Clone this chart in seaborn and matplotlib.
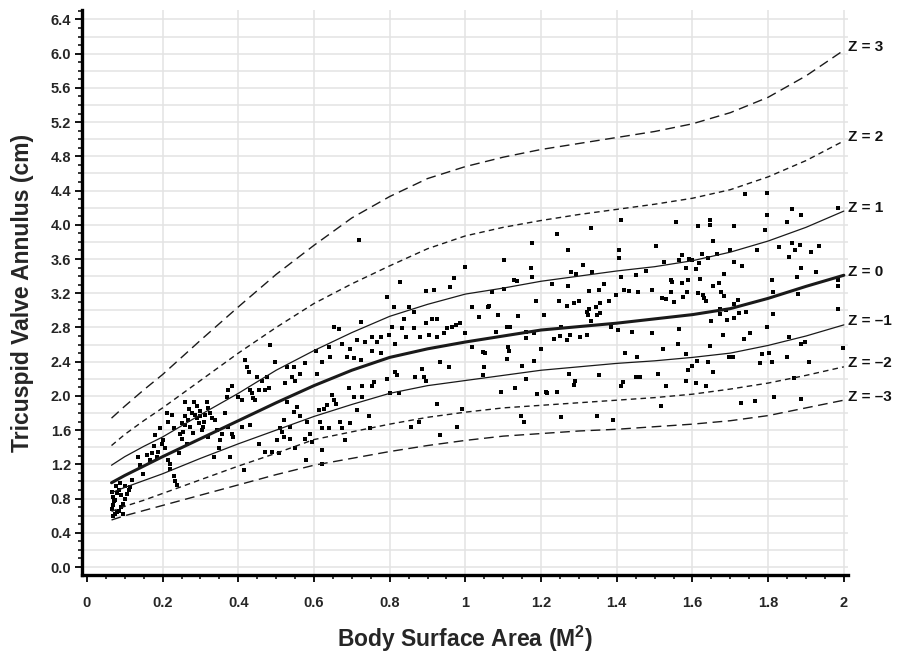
import numpy as np
import pandas as pd
import matplotlib
matplotlib.use("Agg")
import matplotlib.pyplot as plt
import seaborn as sns
from matplotlib.ticker import MultipleLocator, FuncFormatter

# ---------------- data ----------------
bsa_grid = [0.065, 0.1, 0.15, 0.2, 0.3, 0.4, 0.5, 0.6, 0.7, 0.8, 0.9, 1.0,
            1.1, 1.2, 1.3, 1.4, 1.5, 1.6, 1.7, 1.8, 1.9, 2.0]
z_p3 = [1.74, 1.88, 2.07, 2.25, 2.65, 3.04, 3.42, 3.76, 4.08, 4.33, 4.54, 4.68,
        4.79, 4.88, 4.95, 5.02, 5.09, 5.18, 5.31, 5.49, 5.74, 6.04]
z_p2 = [1.42, 1.55, 1.71, 1.86, 2.18, 2.50, 2.80, 3.08, 3.31, 3.52, 3.72, 3.87,
        3.97, 4.05, 4.12, 4.18, 4.24, 4.31, 4.41, 4.56, 4.75, 4.98]
z_p1 = [1.19, 1.29, 1.41, 1.52, 1.78, 2.03, 2.30, 2.53, 2.74, 2.93, 3.07, 3.19,
        3.26, 3.34, 3.40, 3.46, 3.51, 3.58, 3.68, 3.81, 3.97, 4.16]
z_0 = [0.985, 1.07, 1.18, 1.29, 1.50, 1.71, 1.92, 2.12, 2.30, 2.45, 2.55, 2.63,
       2.70, 2.77, 2.81, 2.85, 2.90, 2.95, 3.02, 3.14, 3.28, 3.41]
z_m1 = [0.87, 0.93, 1.01, 1.09, 1.27, 1.44, 1.60, 1.76, 1.90, 2.03, 2.12, 2.18,
        2.24, 2.30, 2.34, 2.38, 2.41, 2.45, 2.50, 2.59, 2.70, 2.83]
z_m2 = [0.65, 0.71, 0.78, 0.86, 1.02, 1.18, 1.33, 1.49, 1.58, 1.67, 1.75, 1.81,
        1.86, 1.89, 1.92, 1.95, 1.98, 2.02, 2.08, 2.15, 2.24, 2.34]
z_m3 = [0.55, 0.60, 0.66, 0.72, 0.84, 0.96, 1.08, 1.19, 1.27, 1.35, 1.42, 1.48,
        1.53, 1.56, 1.59, 1.61, 1.64, 1.67, 1.71, 1.77, 1.86, 1.95]
z_labels = ["Z = 3", "Z = 2", "Z = 1", "Z = 0", "Z = \u20131", "Z = \u20132", "Z = \u20133"]

pts_infant = [(0.066,0.88),(0.07,0.82),(0.075,0.78),(0.08,0.86),(0.085,0.90),(0.09,0.84),
              (0.07,0.72),(0.066,0.68),(0.075,0.62),(0.085,0.66),(0.095,0.74),(0.10,0.80),
              (0.105,0.85),(0.07,0.60),(0.08,0.64),(0.09,0.70),(0.078,0.95),(0.088,0.98),
              (0.10,0.95),(0.11,0.90),(0.095,0.62),(0.072,0.77),(0.12,1.02),(0.115,0.93)]
pts_small = [(0.136,1.29),(0.14,1.19),(0.149,1.09),(0.158,1.31),(0.167,1.25),(0.171,1.33),
             (0.176,1.41),(0.18,1.54),(0.185,1.29),(0.189,1.35),(0.193,1.62),(0.198,1.44),
             (0.202,1.48),(0.207,1.39),(0.211,1.80),(0.215,1.25),(0.22,1.21),(0.22,1.15),
             (0.224,1.78),(0.229,1.06),(0.233,1.00),(0.238,0.96),(0.242,1.33),(0.246,1.56),
             (0.251,1.50),(0.255,1.58),(0.26,1.93),(0.26,1.76),(0.264,1.44),(0.268,1.72),
             (0.273,1.64),(0.277,1.80),(0.282,1.93),(0.286,1.78),(0.29,1.74),(0.295,1.68),
             (0.30,1.76),(0.304,1.60),(0.308,1.64),(0.313,1.78),(0.317,1.93),(0.321,1.52),
             (0.326,1.80),(0.33,1.74),(0.335,1.29),(0.339,1.72),(0.343,1.60),(0.348,1.39),
             (0.352,1.48),(0.357,1.56),(0.365,1.80),(0.37,1.99),(0.374,2.07),(0.379,1.29),
             (0.383,2.11),(0.387,1.52),(0.40,1.99),(0.41,1.95),(0.414,1.13),(0.418,2.42),
             (0.423,2.34),(0.427,2.28),(0.432,2.07),(0.436,2.03),(0.44,1.97),(0.445,1.95),
             (0.449,2.22),(0.454,2.07),(0.462,2.18),(0.471,2.07),(0.476,2.22),(0.48,2.09),
             (0.485,2.59),(0.489,1.35),(0.498,2.40),(0.502,1.48),(0.511,1.62),(0.515,1.58),
             (0.52,1.52),(0.454,1.44),(0.471,1.35),(0.507,1.33),(0.41,1.64),(0.432,1.66),
             (0.374,1.64),(0.383,1.56),(0.25,1.68),(0.27,1.85),(0.29,1.88),(0.31,1.70),
             (0.23,1.62),(0.28,1.57),(0.32,1.86),(0.26,1.66),(0.30,1.82),(0.215,1.70)]
pts_mid = [(0.718,3.82),(0.793,3.16),(0.828,3.33),(1.0,3.51),(0.97,3.38),(0.895,3.23),
           (0.917,3.24),(0.96,3.27),(0.723,2.86),(0.652,2.81),(0.665,2.78),(0.811,3.04),
           (0.85,3.04),(0.864,2.98),(0.912,2.90),(0.925,2.90),(0.895,2.85),(0.987,2.85),
           (0.974,2.83),(0.952,2.79),(0.943,2.73),(0.925,2.69),(0.903,2.71),(0.881,2.69),
           (0.864,2.79),(0.837,2.90),(0.833,2.79),(0.806,2.81),(0.798,2.71),(0.776,2.69),
           (0.754,2.69),(0.767,2.63),(0.736,2.63),(0.714,2.65),(0.696,2.55),(0.674,2.61),
           (0.687,2.46),(0.705,2.44),(0.723,2.42),(0.754,2.53),(0.776,2.50),(0.815,2.61),
           (0.842,2.69),(0.934,2.40),(0.956,2.34),(0.886,2.32),(0.89,2.22),(0.895,2.17),
           (0.868,2.22),(0.815,2.28),(0.82,2.24),(0.793,2.20),(0.758,2.16),(0.727,2.11),
           (0.692,2.09),(0.643,2.46),(0.639,2.57),(0.621,2.40),(0.604,2.53),(0.577,2.38),
           (0.546,2.34),(0.529,2.34),(0.608,2.26),(0.564,2.26),(0.542,2.22),(0.524,2.15),
           (0.551,2.17),(0.648,2.01),(0.652,1.95),(0.657,1.91),(0.634,1.89),(0.626,1.85),
           (0.612,1.83),(0.529,1.93),(0.555,1.87),(0.546,1.81),(0.564,1.76),(0.52,1.72),
           (0.537,1.64),(0.582,1.70),(0.617,1.70),(0.621,1.62),(0.639,1.62),(0.67,1.70),
           (0.696,1.68),(0.674,1.62),(0.683,1.48),(0.577,1.50),(0.59,1.56),(0.595,1.46),
           (0.537,1.50),(0.551,1.39),(0.621,1.37),(0.745,1.76),(0.749,1.62),(0.802,2.03),
           (0.824,2.03),(0.727,1.99),(0.754,2.11),(0.714,1.83),(0.705,1.99),(0.925,1.91),
           (0.877,1.70),(0.855,1.64),(0.934,1.54),(0.978,1.64),(0.992,1.85),(1.018,2.57),
           (1.018,3.04),(1.036,2.92),(1.0,2.73),(0.965,2.81),(0.58,1.25),(0.62,1.20)]
pts_large = [(1.41,4.05),(1.556,4.03),(1.331,3.96),(1.241,3.89),(1.177,3.79),(1.271,3.71),
             (1.503,3.75),(1.406,3.71),(1.406,3.61),(1.103,3.59),(1.525,3.57),(1.565,3.59),
             (1.174,3.49),(1.312,3.53),(1.28,3.45),(1.335,3.45),(1.291,3.42),(1.177,3.39),
             (1.128,3.36),(1.137,3.34),(1.41,3.39),(1.45,3.41),(1.477,3.46),(1.543,3.35),
             (1.547,3.33),(1.23,3.31),(1.271,3.29),(1.366,3.31),(1.071,3.22),(1.102,3.25),
             (1.327,3.23),(1.353,3.24),(1.42,3.24),(1.432,3.23),(1.455,3.22),(1.494,3.24),
             (1.543,3.22),(1.397,3.18),(1.52,3.15),(1.53,3.13),(1.55,3.10),(1.186,3.11),
             (1.247,3.11),(1.287,3.09),(1.30,3.11),(1.38,3.11),(1.357,3.08),(1.344,3.04),
             (1.327,3.02),(1.059,3.04),(1.062,3.05),(1.268,3.05),(1.322,2.98),(1.349,2.94),
             (1.356,2.97),(1.086,2.95),(1.139,2.93),(1.208,2.94),(1.324,2.94),(1.109,2.81),
             (1.119,2.81),(1.252,2.81),(1.331,2.88),(1.384,2.81),(1.08,2.75),(1.159,2.75),
             (1.181,2.73),(1.276,2.71),(1.25,2.70),(1.322,2.71),(1.403,2.77),(1.441,2.75),
             (1.492,2.73),(1.565,2.78),(1.159,2.68),(1.234,2.66),(1.268,2.65),(1.304,2.69),
             (1.561,2.61),(1.112,2.57),(1.115,2.53),(1.046,2.51),(1.053,2.50),(1.201,2.55),
             (1.521,2.55),(1.421,2.50),(1.11,2.43),(1.181,2.41),(1.453,2.45),(1.049,2.34),
             (1.15,2.35),(1.046,2.24),(1.274,2.26),(1.353,2.24),(1.159,2.20),(1.289,2.17),
             (1.417,2.16),(1.287,2.13),(1.45,2.22),(1.461,2.22),(1.51,2.26),(1.53,2.11),
             (1.412,2.11),(1.093,2.04),(1.13,2.09),(1.188,2.02),(1.212,2.04),(1.216,2.03),
             (1.243,2.04),(1.516,1.88),(1.146,1.76),(1.155,1.70),(1.253,1.75),(1.347,1.76),
             (1.391,1.72)]
pts_adult = [(1.738,4.36),(1.797,4.37),(1.864,4.18),(1.985,4.20),(1.797,4.12),(1.888,4.12),
             (1.85,4.03),(1.647,4.06),(1.647,4.0),(1.615,3.98),(1.71,3.98),(1.791,3.94),
             (1.655,3.81),(1.864,3.79),(1.885,3.76),(1.935,3.75),(1.829,3.74),(1.87,3.71),
             (1.77,3.70),(1.913,3.68),(1.70,3.70),(1.666,3.66),(1.624,3.66),(1.64,3.61),
             (1.856,3.62),(1.591,3.60),(1.60,3.59),(1.573,3.65),(1.71,3.56),(1.732,3.52),
             (1.617,3.55),(1.582,3.50),(1.609,3.48),(1.886,3.49),(1.926,3.45),(1.684,3.43),
             (1.876,3.39),(1.62,3.37),(1.588,3.36),(1.809,3.35),(1.985,3.35),(1.573,3.32),
             (1.67,3.32),(1.653,3.28),(1.985,3.28),(1.585,3.21),(1.615,3.20),(1.628,3.18),
             (1.675,3.21),(1.814,3.21),(1.878,3.19),(1.575,3.16),(1.631,3.14),(1.684,3.17),
             (1.635,3.11),(1.721,3.12),(1.71,3.07),(1.673,3.02),(1.688,3.00),(1.741,2.98),
             (1.814,2.96),(1.723,2.97),(1.673,2.96),(1.985,3.02),(1.71,2.91),(1.69,2.89),
             (1.65,2.88),(1.797,2.80),(1.752,2.73),(1.682,2.71),(1.737,2.67),(1.856,2.69),
             (1.897,2.63),(1.888,2.61),(1.646,2.58),(1.997,2.56),(1.582,2.49),(1.785,2.49),
             (1.803,2.50),(1.697,2.45),(1.708,2.46),(1.851,2.45),(1.611,2.41),(1.64,2.40),
             (1.779,2.38),(1.809,2.40),(1.909,2.40),(1.598,2.35),(1.589,2.30),(1.653,2.28),
             (1.609,2.15),(1.582,2.17),(1.635,2.12),(1.869,2.21),(1.728,1.92),(1.765,1.94),
             (1.816,1.99),(1.888,1.96)]

# ---------------- build frames ----------------
curves = [z_p3, z_p2, z_p1, z_0, z_m1, z_m2, z_m3]
styles = [dict(lw=1.0, dashes=(7, 4)), dict(lw=1.0, dashes=(4, 3)), dict(lw=0.9, dashes=None),
          dict(lw=2.2, dashes=None), dict(lw=0.9, dashes=None),
          dict(lw=1.0, dashes=(4, 3)), dict(lw=1.0, dashes=(7, 4))]

all_pts = pts_infant + pts_small + pts_mid + pts_large + pts_adult
df_pts = pd.DataFrame(all_pts, columns=["bsa", "tva"])

# ---------------- figure ----------------
sns.set_theme(style="white")
plt.rcParams["font.family"] = ["Liberation Sans", "DejaVu Sans"]
plt.rcParams["mathtext.fontset"] = "custom"
plt.rcParams["mathtext.rm"] = "Liberation Sans:bold"
plt.rcParams["mathtext.bf"] = "Liberation Sans:bold"

fig = plt.figure(figsize=(9.01, 6.55), dpi=100)
ax = fig.add_axes([82 / 901, 1 - 575 / 655, (848 - 82) / 901, (575 - 10) / 655])

ax.set_xlim(-0.013, 2.011)
ax.set_ylim(-0.093, 6.51)

# grid
ax.xaxis.set_major_locator(MultipleLocator(0.2))
ax.xaxis.set_minor_locator(MultipleLocator(0.05))
ax.yaxis.set_major_locator(MultipleLocator(0.4))
ax.yaxis.set_minor_locator(MultipleLocator(0.1))
for v in np.arange(0.0, 6.41, 0.2):
    ax.axhline(v, color="#e3e3e3", lw=1.1, zorder=0)
for v in np.arange(0.2, 2.01, 0.2):
    ax.axvline(v, color="#e3e3e3", lw=1.1, zorder=0)

sns.scatterplot(data=df_pts, x="bsa", y="tva", ax=ax, marker="s", s=5,
                color="black", linewidth=0, zorder=3, legend=False)

for vals, st, lab in zip(curves, styles, z_labels):
    line_df = pd.DataFrame({"bsa": bsa_grid, "tva": vals})
    sns.lineplot(data=line_df, x="bsa", y="tva", ax=ax, color="#1a1a1a",
                 lw=st["lw"], zorder=4, legend=False)
    if st["dashes"] is not None:
        ax.lines[-1].set_dashes(st["dashes"])
    ax.text(2.012, vals[-1] + 0.04, lab, fontsize=11, fontweight="bold",
            ha="left", va="center", clip_on=False, color="#111111")

# spines / ticks
for s in ["top", "right"]:
    ax.spines[s].set_visible(False)
for s in ["left", "bottom"]:
    ax.spines[s].set_color("black")
    ax.spines[s].set_linewidth(2.4)
ax.tick_params(axis="both", which="both", bottom=True, left=True, top=False, right=False)
ax.tick_params(axis="both", which="major", direction="out", length=5, width=1.3,
               color="black", labelsize=10.5, pad=3)
ax.tick_params(axis="both", which="minor", direction="out", length=3, width=1.1,
               color="black")
ax.tick_params(axis="x", which="major", pad=10)
ax.xaxis.set_major_formatter(FuncFormatter(lambda v, p: "%g" % round(v, 2)))
ax.yaxis.set_major_formatter(FuncFormatter(lambda v, p: "%.1f" % v))
for t in ax.get_xticklabels() + ax.get_yticklabels():
    t.set_fontweight("bold")

ax.set_xlabel("Body Surface Area (M$^{2}$)", fontsize=16.5, fontweight="bold", labelpad=10)
ax.set_ylabel("Tricuspid Valve Annulus (cm)", fontsize=16.5, fontweight="bold", labelpad=12)

fig.savefig("out.png", dpi=100)
